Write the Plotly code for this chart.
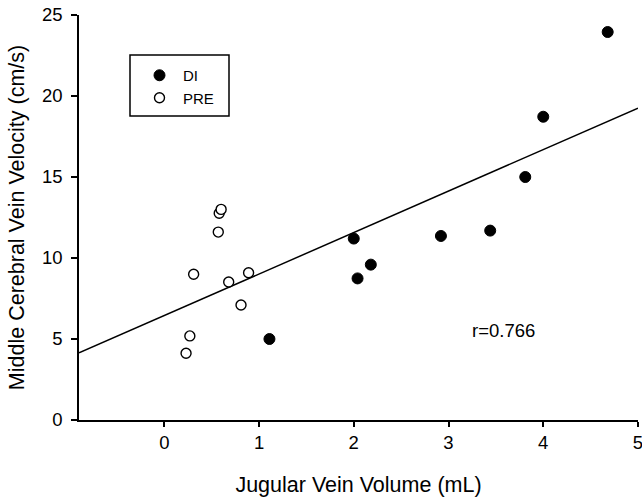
import plotly.graph_objects as go

# Data
di_x = [1.11, 2.00, 2.04, 2.18, 2.92, 3.44, 3.81, 4.00, 4.68]
di_y = [5.00, 11.20, 8.74, 9.59, 11.36, 11.69, 15.00, 18.72, 23.95]
pre_x = [0.23, 0.27, 0.31, 0.57, 0.58, 0.60, 0.68, 0.81, 0.89]
pre_y = [4.12, 5.19, 9.00, 11.60, 12.76, 13.00, 8.52, 7.10, 9.09]

fit_slope = 2.56
fit_intercept = 6.45
fit_x = [-0.9, 5.0]
fit_y = [fit_intercept + fit_slope * v for v in fit_x]

r_label = "r=0.766"
x_ticks = [0, 1, 2, 3, 4, 5]
y_ticks = [0, 5, 10, 15, 20, 25]

FONT = "Liberation Sans, Arial, sans-serif"

fig = go.Figure()
fig.add_trace(go.Scatter(x=fit_x, y=fit_y, mode="lines",
                         line=dict(color="black", width=1.5),
                         showlegend=False, hoverinfo="skip"))
fig.add_trace(go.Scatter(x=di_x, y=di_y, mode="markers", name="DI",
                         marker=dict(symbol="circle", size=11, color="black",
                                     line=dict(color="black", width=1))))
fig.add_trace(go.Scatter(x=pre_x, y=pre_y, mode="markers", name="PRE",
                         marker=dict(symbol="circle", size=10, color="white",
                                     line=dict(color="black", width=1.4))))

fig.add_annotation(x=3.58, y=5.55, text=r_label, showarrow=False,
                   font=dict(family=FONT, size=18.5, color="black"),
                   xanchor="center", yanchor="middle")

# legend frame
fig.add_shape(type="rect", xref="paper", yref="paper",
              x0=(130 - 79) / 559, x1=(229 - 79) / 559,
              y0=(420 - 116) / 405, y1=(420 - 55) / 405,
              line=dict(color="black", width=1.5), fillcolor="rgba(0,0,0,0)")

fig.update_layout(
    template="none",
    width=642, height=497,
    margin=dict(l=79, r=4, t=15, b=77),
    paper_bgcolor="white", plot_bgcolor="white",
    font=dict(family=FONT, size=18.5, color="black"),
    legend=dict(x=(136 - 79) / 559, y=(420 - 59) / 405, xanchor="left", yanchor="top",
                bgcolor="rgba(0,0,0,0)", borderwidth=0,
                font=dict(family=FONT, size=15, color="black"),
                tracegroupgap=0, itemsizing="trace", itemwidth=37),
    xaxis=dict(range=[-0.9, 5.0], tickvals=x_ticks, showgrid=False, zeroline=False,
               automargin=False, ticklabeloverflow="allow",
               showline=True, linecolor="black", linewidth=1.5,
               ticks="outside", ticklen=5, tickwidth=1.5, tickcolor="black",
               title=dict(text="Jugular Vein Volume (mL)", font=dict(size=21.5), standoff=25)),
    yaxis=dict(range=[0, 25], tickvals=y_ticks, showgrid=False, zeroline=False,
               automargin=False, ticklabeloverflow="allow", ticklabelstandoff=5,
               showline=True, linecolor="black", linewidth=1.5,
               ticks="outside", ticklen=6, tickwidth=1.5, tickcolor="black",
               title=dict(text="Middle Cerebral Vein Velocity (cm/s)", font=dict(size=21.5), standoff=11)),
)

fig.write_html("out.html", config={"displayModeBar": False},
               post_script="document.body.style.margin='0px';")
